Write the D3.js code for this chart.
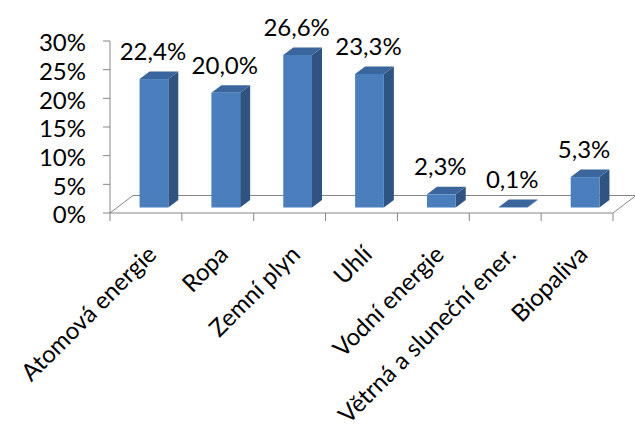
<!DOCTYPE html>
<html>
<head>
<meta charset="utf-8">
<script src="https://cdn.jsdelivr.net/npm/d3@7"></script>
<style>
  body { margin: 0; background: #fff; }
  svg { display: block; }
  text { font-family: Lato, "Open Sans", sans-serif; fill: #000; }
</style>
</head>
<body>
<svg></svg>
<script>
const size = {w: 635, h: 424};

// data (percent)
const categories = ['Atomová energie', 'Ropa', 'Zemní plyn', 'Uhlí', 'Vodní energie', 'Větrná a sluneční ener.', 'Biopaliva'];
const values = [22.4, 20.0, 26.6, 23.3, 2.3, 0.1, 5.3];
const yTicks = [0, 5, 10, 15, 20, 25, 30];

const svg = d3.select('svg')
    .attr('width', size.w)
    .attr('height', size.h);

// czech number format, decimal comma
const cz = d3.formatLocale({decimal: ',', thousands: ' ', grouping: [3], currency: ['', ' Kč']});
const fmt = v => cz.format('.1f')(v) + '%';

const x = d3.scaleBand().domain(categories).range([110, 613]);
const y = d3.scaleLinear().domain([0, 30]).range([213, 41]);

// fake 3d offsets
const floorDepth = {x: 23, y: -17.5};
const barFront = {x: 8, y: -5.5};
const barDepth = {x: 10, y: -7.5};
const barW = x.bandwidth() * 0.4;
const fontSize = 24;

const grey = '#868686';

// floor outline
const floor = svg.append('g').attr('stroke', grey).attr('fill', 'none');
const x0 = x.range()[0], x1 = x.range()[1], y0 = y(0);
floor.append('path')
    .attr('d', `M${x0},${y0}L${x0 + floorDepth.x},${y0 + floorDepth.y}L${x1 + floorDepth.x},${y0 + floorDepth.y}L${x1},${y0}Z`);

// y axis
svg.append('line')
    .attr('x1', x0).attr('x2', x0)
    .attr('y1', y(0)).attr('y2', y(30))
    .attr('stroke', grey);

const yAxis = svg.append('g');
yAxis.selectAll('line')
    .data(yTicks)
    .join('line')
    .attr('x1', x0 - 7).attr('x2', x0)
    .attr('y1', d => y(d)).attr('y2', d => y(d))
    .attr('stroke', grey);
yAxis.selectAll('text')
    .data(yTicks)
    .join('text')
    .attr('x', 86)
    .attr('y', d => y(d) + 2)
    .attr('dy', '0.35em')
    .attr('text-anchor', 'end')
    .attr('font-size', fontSize)
    .text(d => d + '%');

// category ticks
const edges = categories.map(c => x(c)).concat([x1]);
svg.append('g').selectAll('line')
    .data(edges)
    .join('line')
    .attr('x1', d => d).attr('x2', d => d)
    .attr('y1', y0).attr('y2', y0 + 8)
    .attr('stroke', grey);

// bars
const bars = svg.append('g').selectAll('g')
    .data(categories.map((c, i) => ({c, v: values[i]})))
    .join('g');

const fx = d => x(d.c) + (x.bandwidth() - barW) / 2 + barFront.x;
const ftop = d => y(d.v) + barFront.y;
const fbot = y0 + barFront.y;

// side
bars.append('path')
    .attr('fill', '#2f5482')
    .attr('d', d => {
        const r = fx(d) + barW;
        return `M${r},${ftop(d)}L${r + barDepth.x},${ftop(d) + barDepth.y}L${r + barDepth.x},${fbot + barDepth.y}L${r},${fbot}Z`;
    });
// top
bars.append('path')
    .attr('fill', '#3b659d')
    .attr('d', d => {
        const l = fx(d), t = ftop(d);
        return `M${l},${t}L${l + barDepth.x},${t + barDepth.y}L${l + barW + barDepth.x},${t + barDepth.y}L${l + barW},${t}Z`;
    });
// front
bars.append('rect')
    .attr('fill', '#4a7ebd')
    .attr('x', fx)
    .attr('y', ftop)
    .attr('width', barW)
    .attr('height', d => fbot - ftop(d));

// value labels
bars.append('text')
    .attr('x', d => fx(d) + barW / 2 - 1)
    .attr('y', d => ftop(d) - 19)
    .attr('text-anchor', 'middle')
    .attr('font-size', fontSize)
    .text(d => fmt(d.v));

// category labels, rotated
svg.append('g').selectAll('text')
    .data(categories)
    .join('text')
    .attr('text-anchor', 'end')
    .attr('font-size', fontSize)
    .attr('transform', d => `translate(${x(d) + x.bandwidth() / 2 + 12},256) rotate(-45)`)
    .text(d => d);
</script>
</body>
</html>
